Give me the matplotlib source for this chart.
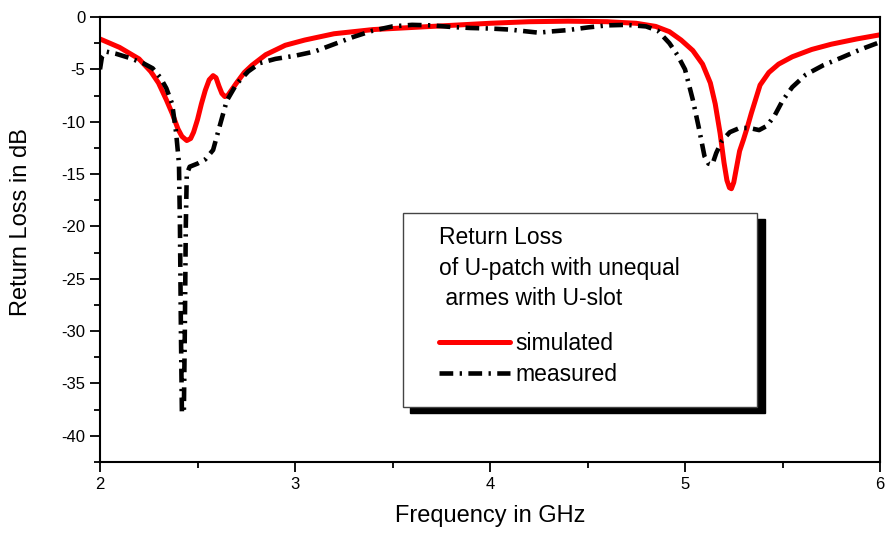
import numpy as np
import matplotlib
matplotlib.use('Agg')
import matplotlib.pyplot as plt
from matplotlib.patches import Rectangle
from matplotlib.ticker import MultipleLocator

plt.rcParams['font.family'] = ['Liberation Sans', 'DejaVu Sans']
plt.rcParams['axes.unicode_minus'] = False

# simulated return loss (red solid)
sim_freq = [2.00, 2.10, 2.20, 2.26, 2.30, 2.34, 2.37, 2.40, 2.42, 2.445, 2.465, 2.48,
            2.50, 2.52, 2.54, 2.56, 2.58, 2.595, 2.61, 2.625, 2.64, 2.655, 2.67, 2.70,
            2.74, 2.78, 2.85, 2.95, 3.05, 3.20, 3.40, 3.60, 3.80, 4.00, 4.20, 4.40,
            4.60, 4.75, 4.85, 4.92, 4.98, 5.04, 5.09, 5.13, 5.155, 5.18, 5.20, 5.215,
            5.228, 5.238, 5.25, 5.265, 5.28, 5.30, 5.32, 5.34, 5.385, 5.43, 5.48, 5.55,
            5.65, 5.75, 5.88, 6.00]
sim_db = [-2.1, -2.9, -4.0, -5.2, -6.3, -7.9, -9.2, -10.7, -11.4, -11.8, -11.6, -11.0,
          -9.8, -8.3, -7.0, -6.0, -5.6, -5.8, -6.6, -7.3, -7.6, -7.5, -7.1, -6.3,
          -5.3, -4.6, -3.6, -2.7, -2.2, -1.6, -1.2, -1.0, -0.8, -0.6, -0.45, -0.4,
          -0.45, -0.6, -0.9, -1.4, -2.2, -3.2, -4.5, -6.3, -8.3, -11.1, -13.9, -15.6,
          -16.3, -16.4, -15.8, -14.3, -12.8, -11.7, -10.5, -9.2, -6.5, -5.3, -4.5, -3.8,
          -3.1, -2.6, -2.1, -1.7]

# measured return loss (black dash-dot)
meas_freq = [2.00, 2.01, 2.03, 2.08, 2.15, 2.22, 2.27, 2.31, 2.34, 2.37, 2.39, 2.405,
             2.41, 2.415, 2.42, 2.43, 2.435, 2.44, 2.445, 2.46, 2.50, 2.54, 2.58, 2.62,
             2.65, 2.70, 2.76, 2.82, 2.90, 3.00, 3.10, 3.20, 3.30, 3.40, 3.50, 3.60,
             3.70, 3.80, 3.90, 4.00, 4.10, 4.20, 4.25, 4.30, 4.40, 4.50, 4.60, 4.70,
             4.80, 4.86, 4.92, 4.96, 5.00, 5.04, 5.07, 5.10, 5.12, 5.14, 5.16, 5.19,
             5.23, 5.28, 5.33, 5.38, 5.42, 5.46, 5.50, 5.55, 5.62, 5.71, 5.80, 5.90,
             6.00]
meas_db = [-5.0, -3.8, -3.3, -3.5, -3.9, -4.4, -4.9, -5.8, -6.8, -8.3, -11.0, -14.0,
           -20.0, -30.0, -37.8, -37.8, -30.0, -20.0, -15.0, -14.3, -14.0, -13.6, -12.7, -10.0,
           -8.0, -6.4, -5.2, -4.4, -4.0, -3.7, -3.3, -2.6, -1.9, -1.3, -0.9, -0.75,
           -0.8, -0.95, -1.05, -1.1, -1.2, -1.4, -1.5, -1.4, -1.25, -1.0, -0.8, -0.75,
           -0.9, -1.3, -2.5, -3.6, -5.0, -7.9, -10.5, -13.3, -14.0, -14.1, -13.0, -11.8,
           -11.0, -10.6, -10.6, -10.8, -10.4, -9.4, -8.0, -6.7, -5.5, -4.6, -3.9, -3.1,
           -2.4]

legend_title = ['Return Loss', 'of U-patch with unequal', ' armes with U-slot']
labels = ['simulated', 'measured']

dashdot = (3.0, 1.4, 0.5, 1.4)

fig = plt.figure(figsize=(8.85, 5.35), dpi=100)
ax = fig.add_axes([100/885, 1 - 462/535, 780/885, 445/535])

ax.plot(sim_freq, sim_db, color='red', lw=3.6, solid_joinstyle='round')
ax.plot(meas_freq, meas_db, color='black', lw=3.3,
        dashes=dashdot, dash_capstyle='butt', dash_joinstyle='round')

ax.set_xlim(2, 6)
ax.set_ylim(-42.5, 0)
ax.xaxis.set_major_locator(MultipleLocator(1))
ax.xaxis.set_minor_locator(MultipleLocator(0.5))
ax.yaxis.set_major_locator(MultipleLocator(5))
ax.yaxis.set_minor_locator(MultipleLocator(2.5))
ax.tick_params(which='both', direction='out', width=1.3, labelsize=12)
ax.tick_params(which='major', length=7)
ax.tick_params(which='minor', length=4)
for s in ax.spines.values():
    s.set_linewidth(1.5)

ax.set_xlabel('Frequency in GHz', fontsize=17, labelpad=10)
ax.set_ylabel('Return Loss in dB', fontsize=17)
ax.yaxis.set_label_coords(-0.087, 0.54)

# legend box with black drop shadow
tr = ax.transAxes
x0, y0, w, h = 0.388, 0.1236, 0.454, 0.436
ax.add_patch(Rectangle((x0 + 0.010, y0 - 0.0135), w, h, transform=tr,
                       facecolor='black', edgecolor='black', zorder=5))
ax.add_patch(Rectangle((x0, y0), w, h, transform=tr,
                       facecolor='white', edgecolor='#444444', lw=1, zorder=6))

for i, line in enumerate(legend_title):
    ax.text(0.435, 0.4895 - i * 0.0685, line, transform=tr, fontsize=16.5,
            ha='left', va='baseline', zorder=7)

ax.plot([0.434, 0.525], [0.2697, 0.2697], transform=tr, color='red', lw=3.6,
        solid_capstyle='round', zorder=7)
ax.plot([0.434, 0.525], [0.2, 0.2], transform=tr, color='black', lw=3.3,
        dashes=dashdot, zorder=7)
ax.text(0.533, 0.2517, labels[0], transform=tr, fontsize=16.5, va='baseline', zorder=7)
ax.text(0.533, 0.182, labels[1], transform=tr, fontsize=16.5, va='baseline', zorder=7)

fig.savefig('out.png', dpi=100)
